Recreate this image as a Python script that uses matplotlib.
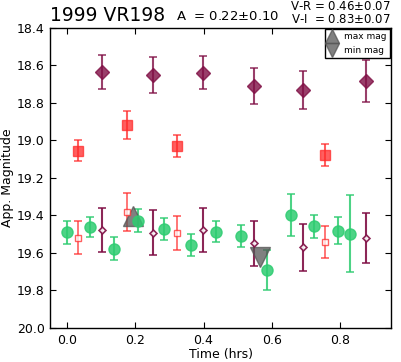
import matplotlib
matplotlib.use("Agg")
import matplotlib.pyplot as plt
import numpy as np

# V band (filled green circles)
t_v = [0.000, 0.067, 0.138, 0.209, 0.285, 0.362, 0.438, 0.511, 0.585, 0.656, 0.724, 0.794, 0.831]
m_v = [19.490, 19.461, 19.577, 19.428, 19.472, 19.556, 19.486, 19.511, 19.692, 19.399, 19.458, 19.481, 19.497]
e_v = [0.060, 0.054, 0.061, 0.060, 0.060, 0.058, 0.055, 0.058, 0.107, 0.111, 0.060, 0.072, 0.204]

# R band (filled red squares) and shifted to V (hollow)
t_r = [0.031, 0.177, 0.322, 0.757]
m_r = [19.054, 18.919, 19.031, 19.077]
m_r_shift = [19.518, 19.383, 19.493, 19.541]
e_r = [0.058, 0.074, 0.060, 0.058]
e_r_shift = [0.086, 0.100, 0.090, 0.087]

# I band (filled purple diamonds) and shifted to V (hollow)
t_i = [0.102, 0.251, 0.399, 0.549, 0.693, 0.877]
m_i = [18.636, 18.652, 18.638, 18.711, 18.731, 18.683]
m_i_shift = [19.477, 19.492, 19.477, 19.549, 19.570, 19.522]
e_i = [0.090, 0.096, 0.090, 0.097, 0.103, 0.110]
e_i_shift = [0.117, 0.119, 0.116, 0.120, 0.127, 0.134]

# max / min of the fitted light curve
t_max, m_max = 0.193, 19.404
t_min, m_min = 0.566, 19.622

green = "#2ecc71"
red = "#ff2a2a"
purple = "#800f45"

fig = plt.figure(figsize=(4.01, 3.62), dpi=100)
ax = fig.add_axes([0.125, 0.094, 0.85, 0.829])

ax.errorbar(t_v, m_v, yerr=e_v, fmt="o", color=green, ms=8, mec=green, alpha=0.85,
            elinewidth=1.5, capsize=3, capthick=1.2)
ax.errorbar(t_r, m_r, yerr=e_r, fmt="s", color=red, ms=7, mec=red, alpha=0.75,
            elinewidth=1.5, capsize=3, capthick=1.2)
ax.errorbar(t_r, m_r_shift, yerr=e_r_shift, fmt="s", color=red, ms=4.5, mfc="white",
            mec=red, alpha=0.75, elinewidth=1.2, capsize=3, capthick=1.2)
ax.errorbar(t_i, m_i, yerr=e_i, fmt="D", color=purple, ms=7, mec=purple, alpha=0.8,
            elinewidth=1.5, capsize=3, capthick=1.2)
ax.errorbar(t_i, m_i_shift, yerr=e_i_shift, fmt="D", color=purple, ms=3.5, mfc="white",
            mec=purple, mew=1.2, alpha=0.9, elinewidth=1.5, capsize=3, capthick=1.2)

ax.plot(t_max, m_max, "^", color="#555555", ms=15, alpha=0.75, label="max mag")
ax.plot(t_min, m_min, "v", color="#555555", ms=15, alpha=0.75, label="min mag")

ax.set_xlim(-0.05, 0.95)
ax.set_ylim(20.0, 18.4)
ax.set_xticks(np.arange(0, 0.81, 0.2))
ax.set_yticks(np.arange(18.4, 20.01, 0.2))
ax.tick_params(direction="in", top=True, right=True, length=4, labelsize=9, pad=4)
for s in ax.spines.values():
    s.set_linewidth(1.0)
ax.set_xlabel("Time (hrs)", fontsize=9, labelpad=1)
ax.set_ylabel("App. Magnitude", fontsize=9, labelpad=2)

ax.text(0.0, 1.01, "1999 VR198", transform=ax.transAxes, fontsize=13.5, ha="left", va="bottom")
ax.text(0.522, 1.015, "A  = 0.22$\\pm$0.10", transform=ax.transAxes, fontsize=9.5,
        ha="center", va="bottom")
ax.text(1.0, 1.005, "V-R = 0.46$\\pm$0.07\nV-I  = 0.83$\\pm$0.07", transform=ax.transAxes,
        fontsize=8.5, ha="right", va="bottom", linespacing=1.05)

leg = ax.legend(loc="upper right", fontsize=6.5, numpoints=1, fancybox=False, framealpha=1,
                borderaxespad=0.15, handlelength=0.9, handletextpad=0.9,
                labelspacing=0.5, borderpad=0.35, markerscale=0.7)
leg.get_frame().set_edgecolor("black")
leg.get_frame().set_linewidth(1.0)

fig.savefig("out.png", dpi=100)
plt.close(fig)
